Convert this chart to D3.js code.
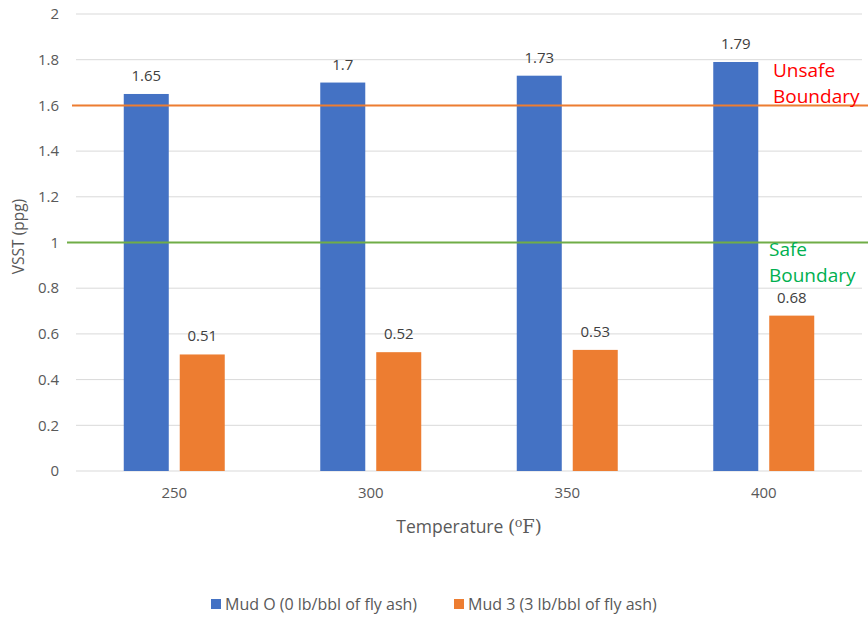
<!DOCTYPE html>
<html>
<head>
<meta charset="utf-8">
<script src="https://cdn.jsdelivr.net/npm/d3@7"></script>
<style>
  html, body { margin: 0; padding: 0; background: #fff; }
  svg { display: block; font-family: "Open Sans", "Noto Sans", sans-serif; }
</style>
</head>
<body>
<svg id="chart" width="868" height="619"></svg>
<script>
const categories = ["250", "300", "350", "400"];
const seriesNames = ["Mud O (0 lb/bbl of fly ash)", "Mud 3 (3 lb/bbl of fly ash)"];
const mud0Values = [1.65, 1.70, 1.73, 1.79];
const mud3Values = [0.51, 0.52, 0.53, 0.68];
const mud0Labels = ["1.65", "1.7", "1.73", "1.79"];
const mud3Labels = ["0.51", "0.52", "0.53", "0.68"];
const yTicks = [0, 0.2, 0.4, 0.6, 0.8, 1, 1.2, 1.4, 1.6, 1.8, 2];
const unsafeValue = 1.6;
const safeValue = 1.0;
const colors = ["#4472C4", "#ED7D31"];

(function () {
const svg = d3.select("#chart");
const pLeft = 76, pRight = 862, pTop = 14, pBottom = 471;

const x0 = d3.scaleBand().domain(categories).range([pLeft, pRight]).paddingInner(0).paddingOuter(0);
const x1 = d3.scaleBand().domain([0, 1]).range([0, x0.bandwidth()]).paddingInner(0.196).paddingOuter(0.853);
const y = d3.scaleLinear().domain([0, 2]).range([pBottom, pTop]);

// gridlines
svg.append("g").selectAll("line").data(yTicks).join("line")
  .attr("x1", pLeft).attr("x2", pRight)
  .attr("y1", d => y(d)).attr("y2", d => y(d))
  .attr("stroke", "#D9D9D9").attr("stroke-width", 1);

// y tick labels
svg.append("g").selectAll("text").data(yTicks).join("text")
  .attr("x", 59).attr("y", d => y(d)).attr("dy", "0.35em")
  .attr("text-anchor", "end").attr("fill", "#595959").attr("font-size", 15)
  .text(d => d3.format("~g")(d));

// y axis title
svg.append("text")
  .attr("transform", `translate(24, ${(pTop + pBottom) / 2 - 6}) rotate(-90)`)
  .attr("text-anchor", "middle").attr("fill", "#595959").attr("font-size", 15.5)
  .text("VSST (ppg)");

// bars
const series = [mud0Values, mud3Values];
const labels = [mud0Labels, mud3Labels];
const g = svg.append("g");
series.forEach((vals, si) => {
  g.selectAll(null).data(vals).join("rect")
    .attr("x", (d, i) => x0(categories[i]) + x1(si))
    .attr("width", x1.bandwidth())
    .attr("y", d => y(d))
    .attr("height", d => y(0) - y(d))
    .attr("fill", colors[si]);
  g.selectAll(null).data(vals).join("text")
    .attr("x", (d, i) => x0(categories[i]) + x1(si) + x1.bandwidth() / 2)
    .attr("y", d => y(d) - 13)
    .attr("text-anchor", "middle").attr("fill", "#404040").attr("font-size", 15)
    .text((d, i) => labels[si][i]);
});

// x tick labels
svg.append("g").selectAll("text").data(categories).join("text")
  .attr("x", d => x0(d) + x0.bandwidth() / 2).attr("y", 498)
  .attr("text-anchor", "middle").attr("fill", "#595959").attr("font-size", 15)
  .text(d => d);

// x axis title
const xt = svg.append("text")
  .attr("x", 469).attr("y", 533)
  .attr("text-anchor", "middle").attr("fill", "#595959").attr("font-size", 17.5);
xt.append("tspan").text("Temperature ");
xt.append("tspan").attr("font-family", "DejaVu Serif, Liberation Serif, serif").attr("font-size", 18).text("(⁰F)");

// reference lines
svg.append("line")
  .attr("x1", pLeft - 4).attr("x2", 868)
  .attr("y1", y(unsafeValue)).attr("y2", y(unsafeValue))
  .attr("stroke", "#ED7D31").attr("stroke-width", 2);
svg.append("line")
  .attr("x1", pLeft - 9).attr("x2", 868)
  .attr("y1", y(safeValue)).attr("y2", y(safeValue))
  .attr("stroke", "#70AD47").attr("stroke-width", 2);

// annotations
svg.append("text").attr("x", 773).attr("y", 77).attr("fill", "#FF0000").attr("font-size", 19)
  .selectAll("tspan").data(["Unsafe", "Boundary"]).join("tspan")
  .attr("x", 773).attr("dy", (d, i) => i ? 26 : 0).text(d => d);
svg.append("text").attr("x", 769).attr("y", 256).attr("fill", "#00B050").attr("font-size", 19)
  .selectAll("tspan").data(["Safe", "Boundary"]).join("tspan")
  .attr("x", 769).attr("dy", (d, i) => i ? 26 : 0).text(d => d);

// legend
const legendX = [211, 454];
seriesNames.forEach((name, i) => {
  svg.append("rect").attr("x", legendX[i]).attr("y", 599).attr("width", 10).attr("height", 10).attr("fill", colors[i]);
  svg.append("text").attr("x", legendX[i] + 14).attr("y", 604).attr("dy", "0.35em")
    .attr("fill", "#595959").attr("font-size", 16).text(name);
});
})();
</script>
</body>
</html>
